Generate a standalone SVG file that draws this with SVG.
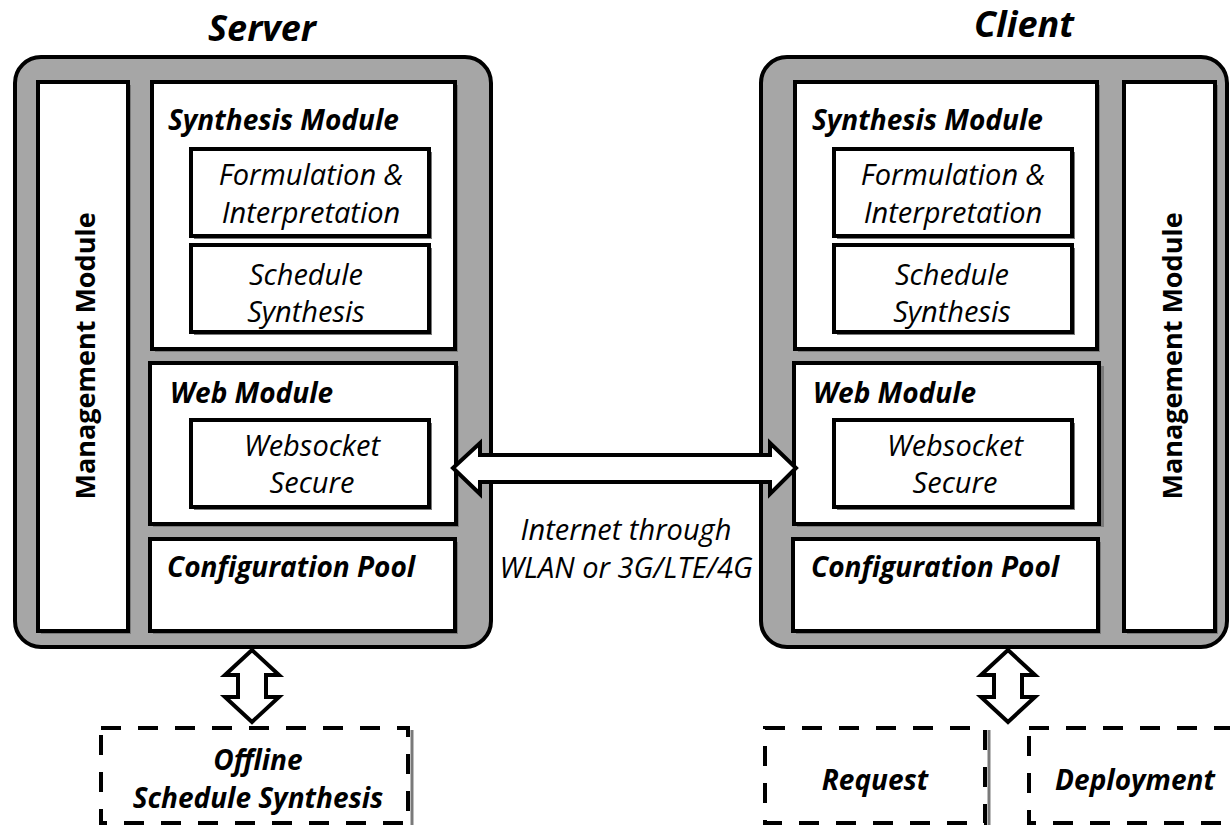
<svg xmlns="http://www.w3.org/2000/svg" width="1230" height="825" viewBox="0 0 1230 825">
<style>
.outer{fill:#a6a6a6;stroke:#000;stroke-width:4}
.box{fill:#fff;stroke:#000;stroke-width:4}
.sh{fill:#7a7a7a}
.dash{fill:#fff;stroke:#000;stroke-width:4;stroke-dasharray:20 17}
.arrow{fill:#fff;stroke:#000;stroke-width:4;stroke-linejoin:miter}
text{font-family:"Open Sans","Liberation Sans",sans-serif;fill:#000}
.title{font-size:36px;font-weight:bold;font-style:italic;text-anchor:middle}
.mod{font-size:28px;font-weight:bold;font-style:italic}
.inner{font-size:29px;font-style:italic;text-anchor:middle}
.mgmt{font-size:27px;font-weight:bold;text-anchor:middle}
.net{font-size:29px;font-style:italic;text-anchor:middle}
.ext{font-size:28px;font-weight:bold;font-style:italic;text-anchor:middle}
</style>
<rect width="1230" height="825" fill="#fff"/>

<g id="server">
<text class="title" x="262" y="41">Server</text>
<rect class="outer" x="15" y="57" width="476" height="590" rx="26"/>
<g id="server-management">
<rect class="sh" x="41" y="85" width="90" height="549"/>
<rect class="box" x="38" y="82" width="90" height="549"/>
<text class="mgmt" transform="translate(95,356) rotate(-90)">Management Module</text>
</g>
<g id="server-synthesis">
<rect class="sh" x="155" y="85" width="303" height="267"/>
<rect class="box" x="152" y="82" width="303" height="267"/>
<text class="mod" x="168" y="130">Synthesis Module</text>
<g id="server-formulation">
<rect class="sh" x="194" y="152" width="238" height="87"/>
<rect class="box" x="191" y="149" width="238" height="87"/>
<text class="inner" x="311" y="185">Formulation &amp;</text>
<text class="inner" x="311" y="223">Interpretation</text>
</g>
<g id="server-schedule">
<rect class="sh" x="194" y="248" width="238" height="87"/>
<rect class="box" x="191" y="245" width="238" height="87"/>
<text class="inner" x="306" y="285">Schedule</text>
<text class="inner" x="306" y="322">Synthesis</text>
</g>
</g>
<g id="server-web">
<rect class="sh" x="153" y="366" width="306" height="161"/>
<rect class="box" x="150" y="363" width="306" height="161"/>
<text class="mod" x="170" y="403">Web Module</text>
<g id="server-wss">
<rect class="sh" x="194" y="423" width="238" height="87"/>
<rect class="box" x="191" y="420" width="238" height="87"/>
<text class="inner" x="312" y="456">Websocket</text>
<text class="inner" x="312" y="493">Secure</text>
</g>
</g>
<g id="server-config">
<rect class="sh" x="153" y="542" width="305" height="92"/>
<rect class="box" x="150" y="539" width="305" height="92"/>
<text class="mod" x="167" y="577">Configuration Pool</text>
</g>
</g>

<g id="client">
<text class="title" x="1024" y="37">Client</text>
<rect class="outer" x="761" y="57" width="466" height="590" rx="26"/>
<g id="client-synthesis">
<rect class="sh" x="798" y="85" width="302" height="267"/>
<rect class="box" x="795" y="82" width="302" height="267"/>
<text class="mod" x="812" y="130">Synthesis Module</text>
<g id="client-formulation">
<rect class="sh" x="837" y="152" width="238" height="87"/>
<rect class="box" x="834" y="149" width="238" height="87"/>
<text class="inner" x="953" y="185">Formulation &amp;</text>
<text class="inner" x="953" y="223">Interpretation</text>
</g>
<g id="client-schedule">
<rect class="sh" x="837" y="248" width="238" height="87"/>
<rect class="box" x="834" y="245" width="238" height="87"/>
<text class="inner" x="952" y="285">Schedule</text>
<text class="inner" x="952" y="322">Synthesis</text>
</g>
</g>
<g id="client-web">
<rect class="sh" x="797" y="366" width="307" height="161"/>
<rect class="box" x="794" y="363" width="305" height="161"/>
<text class="mod" x="813" y="403">Web Module</text>
<g id="client-wss">
<rect class="sh" x="837" y="423" width="238" height="87"/>
<rect class="box" x="834" y="420" width="238" height="87"/>
<text class="inner" x="955" y="456">Websocket</text>
<text class="inner" x="955" y="493">Secure</text>
</g>
</g>
<g id="client-config">
<rect class="sh" x="796" y="542" width="305" height="92"/>
<rect class="box" x="793" y="539" width="305" height="92"/>
<text class="mod" x="811" y="577">Configuration Pool</text>
</g>
<g id="client-management">
<rect class="sh" x="1127" y="85" width="91" height="549"/>
<rect class="box" x="1124" y="82" width="91" height="549"/>
<text class="mgmt" transform="translate(1182,356) rotate(-90)">Management Module</text>
</g>
</g>

<g id="offline">
<line x1="412" y1="730" x2="412" y2="825" stroke="#7a7a7a" stroke-width="3"/>
<rect class="dash" x="101" y="728" width="307" height="95"/>
<text class="ext" x="258" y="770">Offline</text>
<text class="ext" x="258" y="808">Schedule Synthesis</text>
</g>
<g id="request">
<line x1="989" y1="730" x2="989" y2="825" stroke="#7a7a7a" stroke-width="3"/>
<rect class="dash" x="765" y="728" width="220" height="95"/>
<text class="ext" x="875" y="790">Request</text>
</g>
<g id="deployment">
<rect class="dash" x="1029" y="728" width="215" height="95"/>
<text class="ext" x="1135" y="790">Deployment</text>
</g>

<g id="connectors">
<polygon class="arrow" points="453,468 480,443 480,455 770,455 770,443 796,468 770,494 770,482 480,482 480,494"/>
<polygon class="arrow" points="252,650 225,675 238,675 238,697 225,697 252,722 279,697 266,697 266,675 279,675"/>
<polygon class="arrow" points="1008,650 981,675 994,675 994,697 981,697 1008,722 1035,697 1022,697 1022,675 1035,675"/>
<text class="net" x="626" y="540">Internet through</text>
<text class="net" x="626" y="578">WLAN or 3G/LTE/4G</text>
</g>
</svg>
